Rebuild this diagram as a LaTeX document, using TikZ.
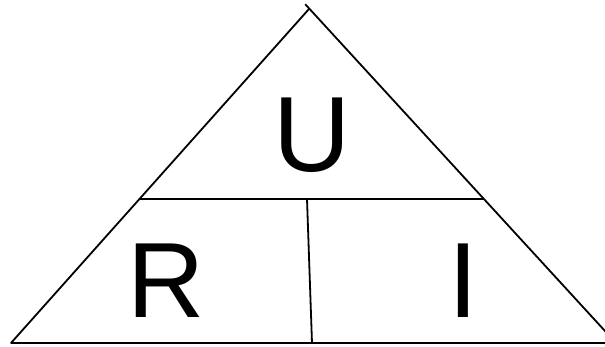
\documentclass[tikz,border=0pt]{standalone}
\usepackage{fontspec}
\setmainfont{Liberation Sans}
\begin{document}
\begin{tikzpicture}[x=1pt,y=-1pt,
  edge/.style={line width=1.8pt,line cap=round},
  bar/.style={line width=2.8pt},
  letter/.style={inner sep=0pt,anchor=base,font=\fontsize{107}{107}\selectfont}]
\useasboundingbox (0,0) rectangle (605,347);
\coordinate (apex) at (309,9);
\coordinate (tick) at (305.5,4.5);
\coordinate (bl) at (11,343);
\coordinate (br) at (616,343);
\coordinate (hl) at (140,199);
\coordinate (hr) at (484,199);
\coordinate (vt) at (307,199);
\coordinate (vb) at (312,343);
\draw[edge] (bl) -- (apex);
\draw[edge] (tick) -- (br);
\draw[line width=2.4pt] (bl) -- (br);
\draw[bar] (hl) -- (hr);
\draw[line width=1.8pt] (vt) -- (vb);
\node[letter] (U) at (312.5,172) {U};
\node[letter] (R) at (166,318) {R};
\node[letter] (I) at (463,318) {I};
\end{tikzpicture}
\end{document}
